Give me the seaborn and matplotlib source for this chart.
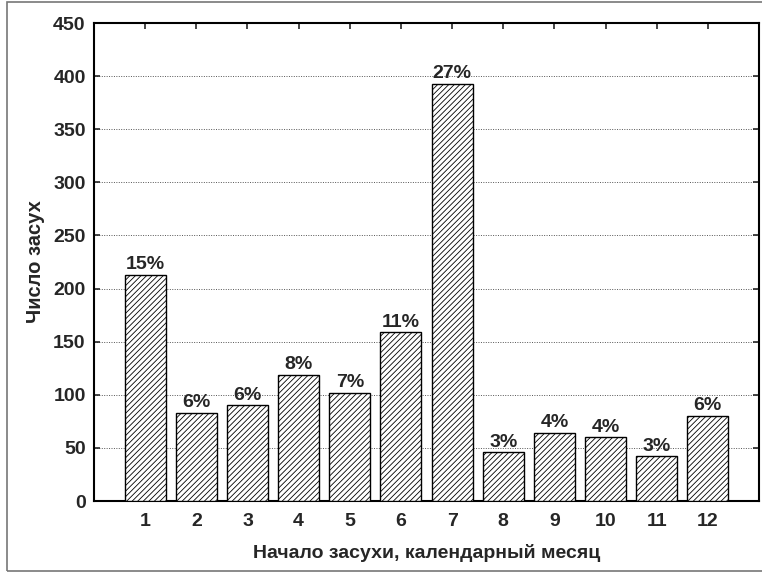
import matplotlib
matplotlib.use("Agg")
import matplotlib.pyplot as plt
import seaborn as sns
import pandas as pd
from matplotlib.patches import Rectangle

# data
months = ['1', '2', '3', '4', '5', '6', '7', '8', '9', '10', '11', '12']
counts = [213, 83, 90, 119, 102, 159, 393, 46, 64, 60, 42, 80]
percent_labels = ['15%', '6%', '6%', '8%', '7%', '11%', '27%', '3%', '4%', '4%', '3%', '6%']

sns.set_style("white")
plt.rcParams['font.family'] = ['Liberation Sans', 'DejaVu Sans']
plt.rcParams['hatch.linewidth'] = 0.6
plt.rcParams['hatch.color'] = '#3a3a3a'

df = pd.DataFrame({'month': months, 'count': counts})

fig = plt.figure(figsize=(7.62, 5.73), dpi=100)
ax = fig.add_axes([94 / 762, (573 - 501) / 573, (759 - 94) / 762, (501 - 23) / 573])

sns.barplot(data=df, x='month', y='count', color='white', edgecolor='black',
            linewidth=1.0, width=0.8, saturation=1, ax=ax, zorder=3)
for bar in ax.patches:
    bar.set_hatch('//////')

# percentage labels above bars
for i, (c, lab) in enumerate(zip(counts, percent_labels)):
    ax.text(i, c + 1.5, lab, ha='center', va='bottom', fontsize=14, fontweight='bold', zorder=4)

ax.set_xlim(-1, 12)
ax.set_ylim(0, 450)
ax.set_yticks(range(0, 451, 50))
ax.yaxis.grid(True, linestyle=(0, (1, 1.5)), color='#555555', linewidth=0.7, zorder=0)
ax.set_axisbelow(True)

ax.tick_params(axis='both', direction='in', length=4, width=1.2, labelsize=14,
               top=True, right=True, left=True, bottom=True)
ax.tick_params(axis='x', pad=9)
ax.tick_params(axis='y', pad=6)
for lab in ax.get_xticklabels() + ax.get_yticklabels():
    lab.set_fontweight('bold')

for sp in ax.spines.values():
    sp.set_linewidth(1.5)
    sp.set_color('black')

ax.set_xlabel('Начало засухи, календарный месяц', fontsize=14, fontweight='bold', labelpad=10)
ax.set_ylabel('Число засух', fontsize=14.5, fontweight='bold', labelpad=6)

# outer frame around the whole picture
fig.patches.append(Rectangle((6.5 / 762, 2 / 573), 1.2, (571 - 2) / 573,
                             transform=fig.transFigure, fill=False,
                             edgecolor='#777777', linewidth=1.2))

fig.savefig('out.png', dpi=100)
